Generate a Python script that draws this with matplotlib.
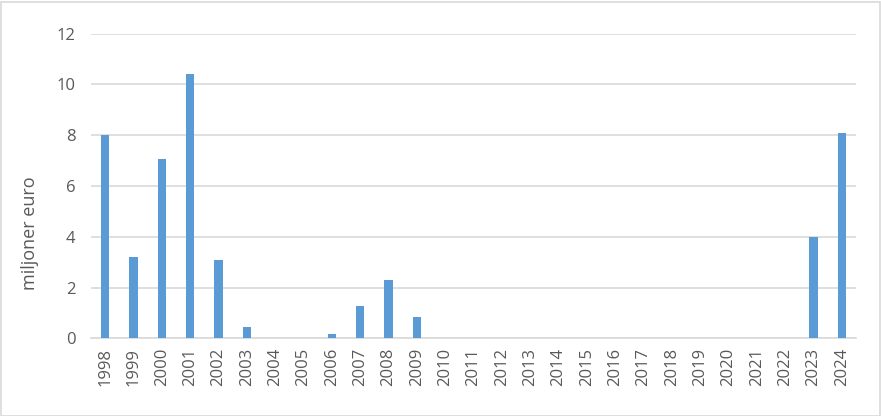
import matplotlib
matplotlib.use("Agg")
import matplotlib.pyplot as plt
from matplotlib.patches import Rectangle

years = [str(y) for y in range(1998, 2025)]
values = [8.0, 3.2, 7.06, 10.41, 3.10, 0.45, 0, 0, 0.16, 1.26, 2.28, 0.83,
          0, 0, 0, 0, 0, 0, 0, 0, 0, 0, 0, 0, 0, 4.0, 8.07]
yticks = [0, 2, 4, 6, 8, 10, 12]

plt.rcParams['font.family'] = ['Open Sans', 'DejaVu Sans']
W, H = 881, 416
fig = plt.figure(figsize=(W / 100, H / 100), dpi=100)
ax = fig.add_axes([91 / W, 1 - 338.3 / H, (856 - 91) / W, (338.3 - 33.7) / H])

x = list(range(len(years)))
ax.bar(x, values, width=0.29, color='#5B9BD5', zorder=3)
ax.set_xlim(-0.5, len(years) - 0.5)
ax.set_ylim(0, 12)
ax.set_yticks(yticks)
ax.set_yticklabels([str(v) for v in yticks])
ax.set_xticks(x)
ax.set_xticklabels(years, rotation=90)
ax.grid(axis='y', color='#D9D9D9', linewidth=1.2, zorder=0)
for s in ['top', 'right', 'left']:
    ax.spines[s].set_visible(False)
ax.spines['bottom'].set_color('#D9D9D9')
ax.spines['bottom'].set_linewidth(1.2)
ax.tick_params(axis='both', length=0, colors='#595959', labelsize=12)
ax.tick_params(axis='y', pad=11)
ax.tick_params(axis='x', pad=7)
ax.set_ylabel('miljoner euro', color='#595959', fontsize=13)
ax.yaxis.set_label_coords(-0.0675, 0.346)

fig.patches.append(Rectangle((0.5 / W, 0.5 / H), 1 - 2 / W, 1 - 2 / H,
                             transform=fig.transFigure, fill=False,
                             edgecolor='#D9D9D9', linewidth=1.2))
fig.savefig('out.png', dpi=100)
